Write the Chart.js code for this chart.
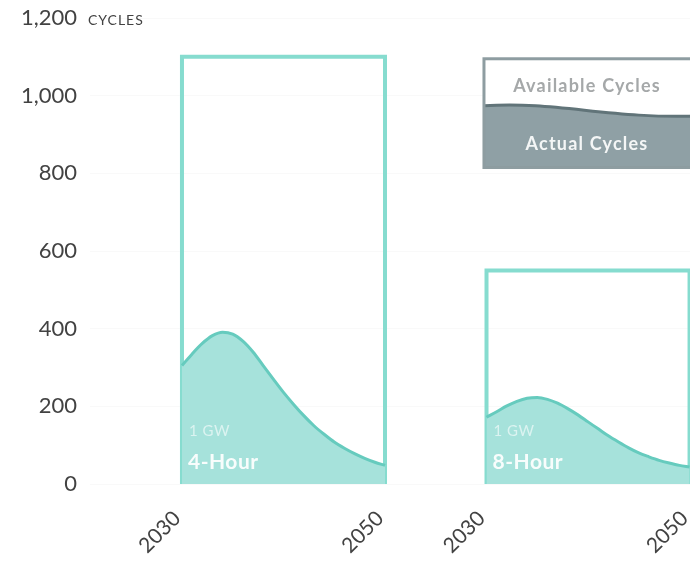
<!DOCTYPE html>
<html>
<head>
<meta charset="utf-8">
<script src="https://cdn.jsdelivr.net/npm/chart.js@4.4.1/dist/chart.umd.min.js"></script>
<style>
  html, body { margin: 0; padding: 0; background: #ffffff; overflow: hidden; }
  #wrap { width: 700px; height: 562px; position: relative; }
</style>
</head>
<body>
<div id="wrap"><canvas id="chart" width="700" height="562"></canvas></div>
<script>
// Yearly cycle counts for a 1 GW storage block
const years = [2030, 2031, 2032, 2033, 2034, 2035, 2036, 2037, 2038, 2039, 2040,
               2041, 2042, 2043, 2044, 2045, 2046, 2047, 2048, 2049, 2050];
const actual4Hour = [305, 335, 362, 382, 391, 386, 368, 340, 305, 270, 236,
                     205, 176, 150, 128, 108, 92, 78, 66, 56, 48];
const actual8Hour = [172, 186, 201, 213, 221, 223, 218, 208, 194, 178, 160,
                     142, 124, 108, 93, 80, 70, 61, 54, 48, 44];
const available4Hour = 1100;
const available8Hour = 550;
const panelNames = ['4-Hour', '8-Hour'];
const panelCapacity = '1 GW';
const yTicks = [0, 200, 400, 600, 800, 1000, 1200];
const xTickYears = [2030, 2050];
const legendLabels = ['Available Cycles', 'Actual Cycles'];

// horizontal placement of each panel on the shared x scale (years from 2030)
const PANEL_SHIFT = [0, 30];
const FIRST_YEAR = years[0];
const SPAN = years[years.length - 1] - FIRST_YEAR;

const TEAL_LINE = '#86dccf';
const TEAL_FILL = '#a6e2db';
const TEAL_EDGE = '#66cbbe';
const TEXT = '#424242';

function areaPoints(values, shift) {
  return years.map((yr, i) => ({ x: yr - FIRST_YEAR + shift, y: values[i] }));
}
function boxPoints(avail, shift) {
  return [
    { x: shift, y: 0 }, { x: shift, y: avail },
    { x: shift + SPAN, y: avail }, { x: shift + SPAN, y: 0 }
  ];
}

const areaStyle = {
  fill: 'origin', backgroundColor: TEAL_FILL, borderColor: TEAL_EDGE,
  borderWidth: 3, pointRadius: 0, cubicInterpolationMode: 'monotone', clip: false
};
const boxStyle = {
  fill: false, borderColor: TEAL_LINE, borderWidth: 4, pointRadius: 0,
  tension: 0, clip: false, borderJoinStyle: 'miter'
};

const xTickValues = [];
PANEL_SHIFT.forEach(s => xTickYears.forEach(yr => xTickValues.push(yr - FIRST_YEAR + s)));

const overlay = {
  id: 'overlay',
  afterDraw(chart) {
    const ctx = chart.ctx;
    const xs = chart.scales.x, ys = chart.scales.y;
    ctx.save();

    // unit next to the top tick
    ctx.fillStyle = TEXT;
    ctx.font = '14px Lato';
    ctx.letterSpacing = '1px';
    ctx.textBaseline = 'middle';
    ctx.textAlign = 'left';
    ctx.fillText('CYCLES', 88, ys.getPixelForValue(1200) + 2);

    // panel captions inside the filled areas
    PANEL_SHIFT.forEach((s, i) => {
      const x0 = xs.getPixelForValue(s) + 7;
      ctx.letterSpacing = '0.5px';
      ctx.fillStyle = 'rgba(255,255,255,0.6)';
      ctx.font = '15px Lato';
      ctx.fillText(panelCapacity, x0, ys.getPixelForValue(135));
      ctx.fillStyle = 'rgba(255,255,255,0.92)';
      ctx.font = 'bold 21px Lato';
      ctx.fillText(panelNames[i], x0 - 1, ys.getPixelForValue(57));
    });

    // legend card
    const L = xs.getPixelForValue(29.75), R = chart.width + 4;
    const T = ys.getPixelForValue(1095), B = ys.getPixelForValue(815);
    const wave = () => {
      ctx.moveTo(L, T + 47);
      ctx.bezierCurveTo(L + 75, T + 42, L + 125, T + 61, R, T + 57);
    };
    ctx.fillStyle = '#ffffff';
    ctx.fillRect(L, T, R - L, B - T);
    ctx.beginPath();
    wave();
    ctx.lineTo(R, B);
    ctx.lineTo(L, B);
    ctx.closePath();
    ctx.fillStyle = '#8fa0a5';
    ctx.fill();
    ctx.beginPath();
    wave();
    ctx.strokeStyle = '#617479';
    ctx.lineWidth = 3;
    ctx.stroke();
    ctx.strokeStyle = '#8e9da1';
    ctx.lineWidth = 3;
    ctx.strokeRect(L, T, R - L, B - T);

    ctx.textAlign = 'center';
    ctx.font = 'bold 18px Lato';
    ctx.letterSpacing = '1.2px';
    ctx.fillStyle = '#a5a8a9';
    ctx.fillText(legendLabels[0], L + 103, T + 27);
    ctx.fillStyle = '#f4f6f6';
    ctx.fillText(legendLabels[1], L + 103, T + 85);
    ctx.restore();
  }
};

new Chart(document.getElementById('chart'), {
  type: 'line',
  data: {
    datasets: [
      Object.assign({ label: 'Actual 4-Hour', data: areaPoints(actual4Hour, PANEL_SHIFT[0]) }, areaStyle),
      Object.assign({ label: 'Actual 8-Hour', data: areaPoints(actual8Hour, PANEL_SHIFT[1]) }, areaStyle),
      Object.assign({ label: 'Available 4-Hour', data: boxPoints(available4Hour, PANEL_SHIFT[0]) }, boxStyle),
      Object.assign({ label: 'Available 8-Hour', data: boxPoints(available8Hour, PANEL_SHIFT[1]) }, boxStyle)
    ]
  },
  options: {
    responsive: false,
    animation: false,
    devicePixelRatio: 1,
    layout: { padding: { top: 18, left: 0, right: 0, bottom: 0 } },
    plugins: { legend: { display: false }, tooltip: { enabled: false } },
    scales: {
      x: {
        type: 'linear',
        min: -9.06,
        max: 51.03,
        grid: { display: false, drawTicks: false },
        border: { display: false },
        afterBuildTicks: (scale) => { scale.ticks = xTickValues.map(v => ({ value: v })); },
        afterFit: (scale) => { scale.height = 78; scale.paddingLeft = 0; scale.paddingRight = 0; },
        ticks: {
          autoSkip: false,
          maxRotation: 45,
          minRotation: 45,
          padding: 22,
          labelOffset: -5,
          color: TEXT,
          font: { family: 'Lato', size: 21 },
          callback: (v) => String(FIRST_YEAR + (v >= PANEL_SHIFT[1] ? v - PANEL_SHIFT[1] : v))
        }
      },
      y: {
        min: 0,
        max: 1200,
        afterBuildTicks: (scale) => { scale.ticks = yTicks.map(v => ({ value: v })); },
        afterFit: (scale) => { scale.width = 90; scale.paddingTop = 0; scale.paddingBottom = 0; },
        grid: { color: 'rgba(0,0,0,0.025)', drawTicks: false },
        border: { display: false },
        ticks: {
          padding: 13,
          color: TEXT,
          font: { family: 'Lato', size: 22 },
          callback: (v) => v.toLocaleString('en-US')
        }
      }
    }
  },
  plugins: [overlay]
});
</script>
</body>
</html>
